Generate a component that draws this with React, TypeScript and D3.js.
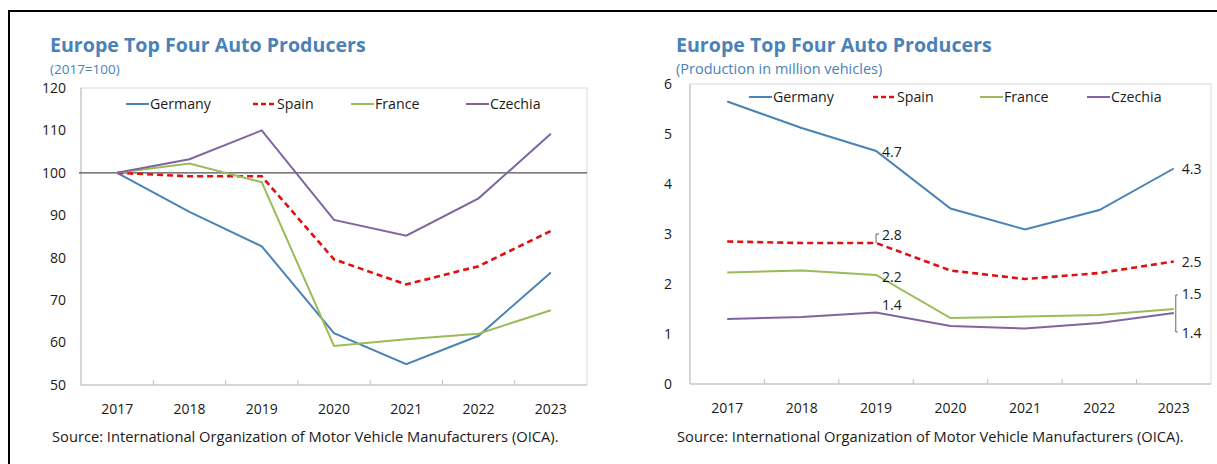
import React from "react";
import * as d3 from "d3";

const years = ["2017", "2018", "2019", "2020", "2021", "2022", "2023"];
const seriesNames = ["Germany", "Spain", "France", "Czechia"];

// Left panel: index, 2017 = 100
const germanyIdx = [100, 90.8, 82.7, 62.2, 54.9, 61.6, 76.5];
const spainIdx = [100, 99.2, 99.2, 79.6, 73.7, 78.0, 86.3];
const franceIdx = [100, 102.2, 97.8, 59.2, 60.8, 62.1, 67.6];
const czechiaIdx = [100, 103.2, 110.0, 88.9, 85.2, 94.0, 109.2];
const leftTicks = [50, 60, 70, 80, 90, 100, 110, 120];

// Right panel: production in million vehicles
const germanyMil = [5.65, 5.12, 4.66, 3.51, 3.09, 3.48, 4.31];
const spainMil = [2.85, 2.82, 2.82, 2.27, 2.10, 2.22, 2.45];
const franceMil = [2.23, 2.27, 2.18, 1.32, 1.35, 1.38, 1.50];
const czechiaMil = [1.30, 1.34, 1.43, 1.16, 1.11, 1.22, 1.42];
const rightTicks = [0, 1, 2, 3, 4, 5, 6];

const colors = ["#4a83b6", "#e01010", "#9bbb59", "#8064a2"];
const dashes = [null, "6,4", null, null];
const widths = [2, 2.6, 2, 2];

const FONT = "'Open Sans', Lato, sans-serif";
const TITLE_COLOR = "#4a82b8";

type Panel = {
  left: number; right: number; top: number; bottom: number;
  domain: [number, number]; ticks: number[]; labelGap: number;
  data: number[][];
  title: string; subtitle: string; subSize: number; titleX: number; titleY: number; subY: number;
  legendY: number; legendX: number[];
  baseline?: number;
};

function PanelView({ p, children }: { p: Panel; children?: (x: (i: number) => number, y: (v: number) => number) => React.ReactNode }) {
  const xb = d3.scaleBand<string>().domain(years).range([p.left, p.right]).paddingInner(0).paddingOuter(0);
  const y = d3.scaleLinear().domain(p.domain).range([p.bottom, p.top]);
  const xc = (i: number) => (xb(years[i]) as number) + xb.bandwidth() / 2;
  const line = d3.line<number>().x((_, i) => xc(i)).y((v) => y(v));
  return (
    <g>
      <text x={p.titleX} y={p.titleY} fontFamily={FONT} fontWeight={700} fontSize={19.6} fill={TITLE_COLOR}>{p.title}</text>
      <text x={p.titleX} y={p.subY} fontFamily={FONT} fontSize={p.subSize} fill={TITLE_COLOR}>{p.subtitle}</text>
      <rect x={p.left} y={p.top} width={p.right - p.left} height={p.bottom - p.top} fill="none" stroke="#d9d9d9" strokeWidth={1} />
      <line x1={p.left} x2={p.left} y1={p.top} y2={p.bottom} stroke="#bfbfbf" />
      <line x1={p.left} x2={p.right} y1={p.bottom} y2={p.bottom} stroke="#bfbfbf" />
      {years.slice(1).map((yr) => (
        <line key={yr} x1={xb(yr) as number} x2={xb(yr) as number} y1={p.bottom} y2={p.bottom - 5} stroke="#bfbfbf" />
      ))}
      {p.ticks.map((t) => (
        <text key={t} x={p.left - p.labelGap} y={y(t)} dy="0.35em" textAnchor="end" fontFamily={FONT} fontSize={14} fill="#1a1a1a">{t}</text>
      ))}
      {years.map((yr, i) => (
        <text key={yr} x={xc(i)} y={p.bottom + 24} dy="0.35em" textAnchor="middle" fontFamily={FONT} fontSize={14} fill="#1a1a1a">{yr}</text>
      ))}
      {p.baseline !== undefined && (
        <line x1={p.left - 2} x2={p.right} y1={y(p.baseline)} y2={y(p.baseline)} stroke="#505050" strokeWidth={1.3} />
      )}
      {p.data.map((d, k) => (
        <path key={k} d={line(d) as string} fill="none" stroke={colors[k]} strokeWidth={widths[k]} strokeDasharray={dashes[k] ?? undefined} />
      ))}
      {seriesNames.map((n, k) => (
        <g key={n}>
          <line x1={p.legendX[k]} x2={p.legendX[k] + 23} y1={p.legendY} y2={p.legendY} stroke={colors[k]} strokeWidth={widths[k]} strokeDasharray={k === 1 ? "5,3" : undefined} />
          <text x={p.legendX[k] + 24} y={p.legendY} dy="0.35em" fontFamily={FONT} fontSize={14.2} fill="#1a1a1a">{n}</text>
        </g>
      ))}
      {children && children(xc, y)}
    </g>
  );
}

export default function App() {
  const leftPanel: Panel = {
    left: 81, right: 587, top: 88, bottom: 385,
    domain: [50, 120], ticks: leftTicks, labelGap: 15,
    data: [germanyIdx, spainIdx, franceIdx, czechiaIdx],
    title: "Europe Top Four Auto Producers", subtitle: "(2017=100)", subSize: 13.5,
    titleX: 50, titleY: 52, subY: 74,
    legendY: 104, legendX: [126, 253, 351, 466],
    baseline: 100,
  };
  const rightPanel: Panel = {
    left: 690, right: 1211, top: 84, bottom: 384,
    domain: [0, 6], ticks: rightTicks, labelGap: 18,
    data: [germanyMil, spainMil, franceMil, czechiaMil],
    title: "Europe Top Four Auto Producers", subtitle: "(Production in million vehicles)", subSize: 14.5,
    titleX: 676, titleY: 52, subY: 74,
    legendY: 97, legendX: [749, 873, 980, 1087],
  };
  const lab = { fontFamily: FONT, fontSize: 14, fill: "#1a1a1a", dy: "0.35em" } as const;
  return (
    <svg width={1217} height={464} style={{ position: "absolute", left: 0, top: 0, background: "#fff" }}>
      <rect x={0} y={0} width={1217} height={464} fill="#fff" />
      <line x1={8} x2={1217} y1={11} y2={11} stroke="#000" strokeWidth={2} />
      <line x1={9} x2={9} y1={10} y2={464} stroke="#000" strokeWidth={2} />
      <PanelView p={leftPanel} />
      <PanelView p={rightPanel}>
        {(xc, y) => (
          <g>
            <text x={xc(2) + 6} y={y(germanyMil[2]) + 1} {...lab}>4.7</text>
            <text x={xc(6) + 8} y={y(germanyMil[6]) + 1} {...lab}>4.3</text>
            <path d={`M${xc(2)},${y(spainMil[2])}V${y(spainMil[2]) - 9}h3`} fill="none" stroke="#404040" strokeWidth={0.8} />
            <text x={xc(2) + 6} y={y(spainMil[2]) - 8} {...lab}>2.8</text>
            <text x={xc(6) + 8} y={y(spainMil[6]) + 1} {...lab}>2.5</text>
            <text x={xc(2) + 6} y={y(franceMil[2]) + 2} {...lab}>2.2</text>
            <text x={xc(2) + 6} y={y(czechiaMil[2]) - 7} {...lab}>1.4</text>
            <path d={`M${xc(6) + 4},${y(franceMil[6]) - 14}h-2V${y(czechiaMil[6]) + 19}h2`} fill="none" stroke="#404040" strokeWidth={0.8} />
            <text x={xc(6) + 8} y={y(franceMil[6]) - 15} {...lab}>1.5</text>
            <text x={xc(6) + 8} y={y(czechiaMil[6]) + 20} {...lab}>1.4</text>
          </g>
        )}
      </PanelView>
      <text x={52} y={442} fontFamily={FONT} fontSize={14.7} fill="#1a1a1a">Source: International Organization of Motor Vehicle Manufacturers (OICA).</text>
      <text x={677} y={442} fontFamily={FONT} fontSize={14.7} fill="#1a1a1a">Source: International Organization of Motor Vehicle Manufacturers (OICA).</text>
    </svg>
  );
}
